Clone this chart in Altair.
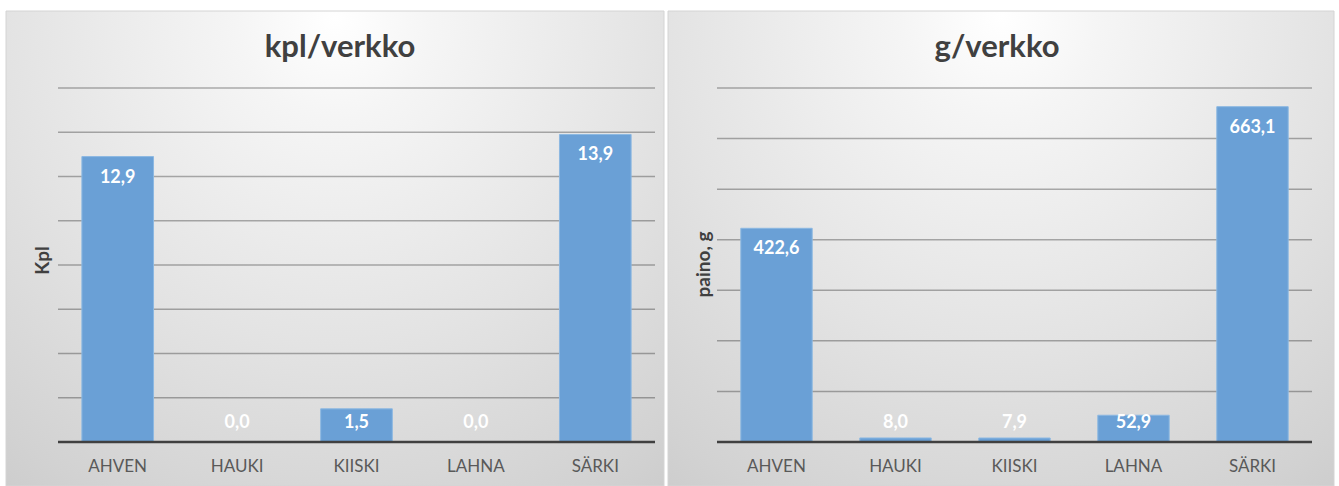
import altair as alt
import pandas as pd

categories = ["AHVEN", "HAUKI", "KIISKI", "LAHNA", "SÄRKI"]
kpl_values = [12.9, 0.0, 1.5, 0.0, 13.9]
g_values = [422.6, 8.0, 7.9, 52.9, 663.1]
kpl_grid = [2, 4, 6, 8, 10, 12, 14, 16]
g_grid = [100, 200, 300, 400, 500, 600, 700]

FONT = "Lato"
BAR = "#6aa0d6"

bg_gradient = alt.RadialGradient(
    gradient="radial",
    stops=[
        alt.GradientStop(color="#ffffff", offset=0),
        alt.GradientStop(color="#f5f5f5", offset=0.15),
        alt.GradientStop(color="#e3e3e3", offset=0.5),
        alt.GradientStop(color="#d2d2d2", offset=0.8),
        alt.GradientStop(color="#c4c4c4", offset=1),
    ],
    x1=0.5, y1=0.15, r1=0,
    x2=0.5, y2=0.15, r2=1.0,
)


def panel(title, ytitle, values, grid, ymax, width, height, bg_left, bg_right, title_x, ytitle_x, ytitle_y):
    df = pd.DataFrame({"cat": categories, "v": values})
    gdf = pd.DataFrame({"v": grid})
    yscale = alt.Scale(domain=[0, ymax], nice=False, zero=True)
    yaxis = alt.Axis(
        title=ytitle, labels=False, ticks=False, domain=False, grid=False,
        titleX=ytitle_x, titleY=ytitle_y, titleAngle=-90, titleAlign="center",
        titleBaseline="alphabetic", titleFont=FONT, titleFontSize=19,
        titleFontWeight="bold", titleColor="#404040", minExtent=0, zindex=2,
    )
    xenc = alt.X(
        "cat:N", sort=categories,
        scale=alt.Scale(paddingInner=0.4, paddingOuter=0.2),
        axis=alt.Axis(title=None, labelFont=FONT, labelFontSize=17,
                      labelColor="#595959", ticks=False, domain=False,
                      labelPadding=16, labelAngle=0, grid=False, zindex=2),
    )

    bg = alt.Chart(pd.DataFrame({"a": [0]})).mark_rect(
        color=bg_gradient, stroke="#d4d4d4", strokeWidth=1
    ).encode(
        x=alt.value(bg_left), x2=alt.value(width + bg_right),
        y=alt.value(-77), y2=alt.value(height + 44),
    )
    gridlines = alt.Chart(gdf).mark_rule(
        color="#000000", strokeOpacity=0.3, strokeWidth=1.5
    ).encode(y=alt.Y("v:Q", scale=yscale, axis=yaxis))
    bars = alt.Chart(df).mark_bar(
        color=BAR, stroke="#8cb8e2", strokeWidth=1
    ).encode(x=xenc, y=alt.Y("v:Q", scale=yscale, axis=yaxis))
    baseline = alt.Chart(pd.DataFrame({"v": [0]})).mark_rule(
        color="#404040", strokeWidth=2.5
    ).encode(y=alt.Y("v:Q", scale=yscale, axis=yaxis))
    labels = alt.Chart(df).transform_calculate(
        ly=f"max(datum.v, {ymax * 0.113})",
        lbl="replace(format(datum.v, '.1f'), '.', ',')",
    ).mark_text(
        color="white", font=FONT, fontSize=18, fontWeight="bold",
        baseline="middle", dy=21,
    ).encode(x=xenc, y=alt.Y("ly:Q", scale=yscale, axis=yaxis), text="lbl:N")
    ttl = alt.Chart(pd.DataFrame({"t": [title]})).mark_text(
        font=FONT, fontSize=31, fontWeight="bold", color="#404040",
        baseline="middle", align="center",
    ).encode(x=alt.value(title_x), y=alt.value(-40), text="t:N")

    return alt.layer(bg, gridlines, bars, baseline, labels, ttl).properties(
        width=width, height=height
    )


left = panel("kpl/verkko", "Kpl", kpl_values, kpl_grid, 16, 597, 354,
             -52, 9, 282, -10, 172)
right = panel("g/verkko", "paino, g", g_values, g_grid, 700, 595, 354,
              -49, 22, 280, -8, 176)

chart = alt.hconcat(left, right, spacing=2).properties(
    padding={"left": 5, "top": 10, "right": 0, "bottom": 0}
).configure_view(stroke=None)

chart.save("out.html", embed_options={"renderer": "svg", "actions": False})
